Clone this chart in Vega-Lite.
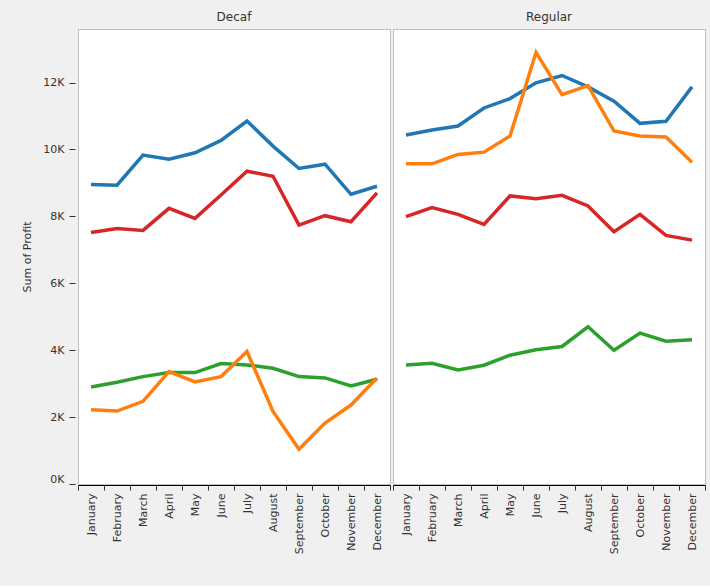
{
  "$schema": "https://vega.github.io/schema/vega-lite/v6.json",
  "description": "Sum of Profit by month, product and type",
  "background": "#f0f0f0",
  "padding": {"left": 21, "top": 11, "right": 5, "bottom": 32},
  "data": {
    "values": [
      {"Type": "Decaf", "Product": "Coffee", "Month": "January", "Profit": 8950},
      {"Type": "Decaf", "Product": "Coffee", "Month": "February", "Profit": 8930},
      {"Type": "Decaf", "Product": "Coffee", "Month": "March", "Profit": 9830},
      {"Type": "Decaf", "Product": "Coffee", "Month": "April", "Profit": 9710},
      {"Type": "Decaf", "Product": "Coffee", "Month": "May", "Profit": 9900},
      {"Type": "Decaf", "Product": "Coffee", "Month": "June", "Profit": 10270},
      {"Type": "Decaf", "Product": "Coffee", "Month": "July", "Profit": 10850},
      {"Type": "Decaf", "Product": "Coffee", "Month": "August", "Profit": 10100},
      {"Type": "Decaf", "Product": "Coffee", "Month": "September", "Profit": 9430},
      {"Type": "Decaf", "Product": "Coffee", "Month": "October", "Profit": 9560},
      {"Type": "Decaf", "Product": "Coffee", "Month": "November", "Profit": 8660},
      {"Type": "Decaf", "Product": "Coffee", "Month": "December", "Profit": 8900},
      {"Type": "Decaf", "Product": "Tea", "Month": "January", "Profit": 7520},
      {"Type": "Decaf", "Product": "Tea", "Month": "February", "Profit": 7640},
      {"Type": "Decaf", "Product": "Tea", "Month": "March", "Profit": 7580},
      {"Type": "Decaf", "Product": "Tea", "Month": "April", "Profit": 8240},
      {"Type": "Decaf", "Product": "Tea", "Month": "May", "Profit": 7940},
      {"Type": "Decaf", "Product": "Tea", "Month": "June", "Profit": 8640},
      {"Type": "Decaf", "Product": "Tea", "Month": "July", "Profit": 9350},
      {"Type": "Decaf", "Product": "Tea", "Month": "August", "Profit": 9200},
      {"Type": "Decaf", "Product": "Tea", "Month": "September", "Profit": 7740},
      {"Type": "Decaf", "Product": "Tea", "Month": "October", "Profit": 8020},
      {"Type": "Decaf", "Product": "Tea", "Month": "November", "Profit": 7840},
      {"Type": "Decaf", "Product": "Tea", "Month": "December", "Profit": 8700},
      {"Type": "Decaf", "Product": "Herbal Tea", "Month": "January", "Profit": 2900},
      {"Type": "Decaf", "Product": "Herbal Tea", "Month": "February", "Profit": 3040},
      {"Type": "Decaf", "Product": "Herbal Tea", "Month": "March", "Profit": 3210},
      {"Type": "Decaf", "Product": "Herbal Tea", "Month": "April", "Profit": 3330},
      {"Type": "Decaf", "Product": "Herbal Tea", "Month": "May", "Profit": 3330},
      {"Type": "Decaf", "Product": "Herbal Tea", "Month": "June", "Profit": 3600},
      {"Type": "Decaf", "Product": "Herbal Tea", "Month": "July", "Profit": 3560},
      {"Type": "Decaf", "Product": "Herbal Tea", "Month": "August", "Profit": 3460},
      {"Type": "Decaf", "Product": "Herbal Tea", "Month": "September", "Profit": 3210},
      {"Type": "Decaf", "Product": "Herbal Tea", "Month": "October", "Profit": 3170},
      {"Type": "Decaf", "Product": "Herbal Tea", "Month": "November", "Profit": 2930},
      {"Type": "Decaf", "Product": "Herbal Tea", "Month": "December", "Profit": 3130},
      {"Type": "Decaf", "Product": "Espresso", "Month": "January", "Profit": 2220},
      {"Type": "Decaf", "Product": "Espresso", "Month": "February", "Profit": 2180},
      {"Type": "Decaf", "Product": "Espresso", "Month": "March", "Profit": 2470},
      {"Type": "Decaf", "Product": "Espresso", "Month": "April", "Profit": 3360},
      {"Type": "Decaf", "Product": "Espresso", "Month": "May", "Profit": 3050},
      {"Type": "Decaf", "Product": "Espresso", "Month": "June", "Profit": 3210},
      {"Type": "Decaf", "Product": "Espresso", "Month": "July", "Profit": 3960},
      {"Type": "Decaf", "Product": "Espresso", "Month": "August", "Profit": 2170},
      {"Type": "Decaf", "Product": "Espresso", "Month": "September", "Profit": 1040},
      {"Type": "Decaf", "Product": "Espresso", "Month": "October", "Profit": 1820},
      {"Type": "Decaf", "Product": "Espresso", "Month": "November", "Profit": 2360},
      {"Type": "Decaf", "Product": "Espresso", "Month": "December", "Profit": 3170},
      {"Type": "Regular", "Product": "Coffee", "Month": "January", "Profit": 10430},
      {"Type": "Regular", "Product": "Coffee", "Month": "February", "Profit": 10580},
      {"Type": "Regular", "Product": "Coffee", "Month": "March", "Profit": 10700},
      {"Type": "Regular", "Product": "Coffee", "Month": "April", "Profit": 11240},
      {"Type": "Regular", "Product": "Coffee", "Month": "May", "Profit": 11520},
      {"Type": "Regular", "Product": "Coffee", "Month": "June", "Profit": 11990},
      {"Type": "Regular", "Product": "Coffee", "Month": "July", "Profit": 12210},
      {"Type": "Regular", "Product": "Coffee", "Month": "August", "Profit": 11870},
      {"Type": "Regular", "Product": "Coffee", "Month": "September", "Profit": 11440},
      {"Type": "Regular", "Product": "Coffee", "Month": "October", "Profit": 10780},
      {"Type": "Regular", "Product": "Coffee", "Month": "November", "Profit": 10840},
      {"Type": "Regular", "Product": "Coffee", "Month": "December", "Profit": 11870},
      {"Type": "Regular", "Product": "Espresso", "Month": "January", "Profit": 9570},
      {"Type": "Regular", "Product": "Espresso", "Month": "February", "Profit": 9570},
      {"Type": "Regular", "Product": "Espresso", "Month": "March", "Profit": 9850},
      {"Type": "Regular", "Product": "Espresso", "Month": "April", "Profit": 9920},
      {"Type": "Regular", "Product": "Espresso", "Month": "May", "Profit": 10400},
      {"Type": "Regular", "Product": "Espresso", "Month": "June", "Profit": 12900},
      {"Type": "Regular", "Product": "Espresso", "Month": "July", "Profit": 11640},
      {"Type": "Regular", "Product": "Espresso", "Month": "August", "Profit": 11910},
      {"Type": "Regular", "Product": "Espresso", "Month": "September", "Profit": 10550},
      {"Type": "Regular", "Product": "Espresso", "Month": "October", "Profit": 10400},
      {"Type": "Regular", "Product": "Espresso", "Month": "November", "Profit": 10370},
      {"Type": "Regular", "Product": "Espresso", "Month": "December", "Profit": 9620},
      {"Type": "Regular", "Product": "Tea", "Month": "January", "Profit": 7990},
      {"Type": "Regular", "Product": "Tea", "Month": "February", "Profit": 8260},
      {"Type": "Regular", "Product": "Tea", "Month": "March", "Profit": 8060},
      {"Type": "Regular", "Product": "Tea", "Month": "April", "Profit": 7760},
      {"Type": "Regular", "Product": "Tea", "Month": "May", "Profit": 8610},
      {"Type": "Regular", "Product": "Tea", "Month": "June", "Profit": 8530},
      {"Type": "Regular", "Product": "Tea", "Month": "July", "Profit": 8630},
      {"Type": "Regular", "Product": "Tea", "Month": "August", "Profit": 8310},
      {"Type": "Regular", "Product": "Tea", "Month": "September", "Profit": 7540},
      {"Type": "Regular", "Product": "Tea", "Month": "October", "Profit": 8060},
      {"Type": "Regular", "Product": "Tea", "Month": "November", "Profit": 7430},
      {"Type": "Regular", "Product": "Tea", "Month": "December", "Profit": 7290},
      {"Type": "Regular", "Product": "Herbal Tea", "Month": "January", "Profit": 3560},
      {"Type": "Regular", "Product": "Herbal Tea", "Month": "February", "Profit": 3610},
      {"Type": "Regular", "Product": "Herbal Tea", "Month": "March", "Profit": 3410},
      {"Type": "Regular", "Product": "Herbal Tea", "Month": "April", "Profit": 3550},
      {"Type": "Regular", "Product": "Herbal Tea", "Month": "May", "Profit": 3850},
      {"Type": "Regular", "Product": "Herbal Tea", "Month": "June", "Profit": 4010},
      {"Type": "Regular", "Product": "Herbal Tea", "Month": "July", "Profit": 4110},
      {"Type": "Regular", "Product": "Herbal Tea", "Month": "August", "Profit": 4700},
      {"Type": "Regular", "Product": "Herbal Tea", "Month": "September", "Profit": 4000},
      {"Type": "Regular", "Product": "Herbal Tea", "Month": "October", "Profit": 4510},
      {"Type": "Regular", "Product": "Herbal Tea", "Month": "November", "Profit": 4270},
      {"Type": "Regular", "Product": "Herbal Tea", "Month": "December", "Profit": 4310}
    ]
  },
  "facet": {
    "column": {
      "field": "Type",
      "type": "nominal",
      "title": null,
      "header": {"labelFontSize": 12, "labelColor": "#333333", "labelPadding": 4}
    }
  },
  "spacing": 1,
  "spec": {
    "width": 312,
    "height": 455,
    "mark": {"type": "line", "strokeWidth": 3.5},
    "encoding": {
      "x": {
        "field": "Month",
        "type": "ordinal",
        "sort": ["January", "February", "March", "April", "May", "June", "July", "August", "September", "October", "November", "December"],
        "bandPosition": 0.5,
        "scale": {"type": "band", "paddingInner": 0, "paddingOuter": 0},
        "title": null,
        "axis": {
          "labelAngle": -90,
          "tickBand": "extent",
          "tickSize": 5,
          "labelPadding": 3,
          "domainColor": "#000000",
          "tickColor": "#333333",
          "labelColor": "#333333",
          "labelFontSize": 11
        }
      },
      "y": {
        "field": "Profit",
        "type": "quantitative",
        "aggregate": "sum",
        "title": "Sum of Profit",
        "scale": {"domain": [0, 13600], "nice": false},
        "axis": {
          "values": [0, 2000, 4000, 6000, 8000, 10000, 12000],
          "labelExpr": "format(datum.value / 1000, 'd') + 'K'",
          "labelFlush": true,
          "grid": false,
          "domain": false,
          "offset": 2,
          "tickSize": 6,
          "labelPadding": 5,
          "tickColor": "#333333",
          "labelColor": "#333333",
          "labelFontSize": 11,
          "titleFontSize": 11,
          "titleFontWeight": "normal",
          "titleColor": "#333333",
          "titlePadding": 10
        }
      },
      "color": {
        "field": "Product",
        "type": "nominal",
        "scale": {
          "domain": ["Coffee", "Espresso", "Herbal Tea", "Tea"],
          "range": ["#1f77b4", "#ff7f0e", "#2ca02c", "#d62728"]
        },
        "legend": null
      }
    }
  },
  "config": {
    "font": "DejaVu Sans",
    "view": {"fill": "#ffffff", "stroke": "#c0c0c0"}
  }
}
